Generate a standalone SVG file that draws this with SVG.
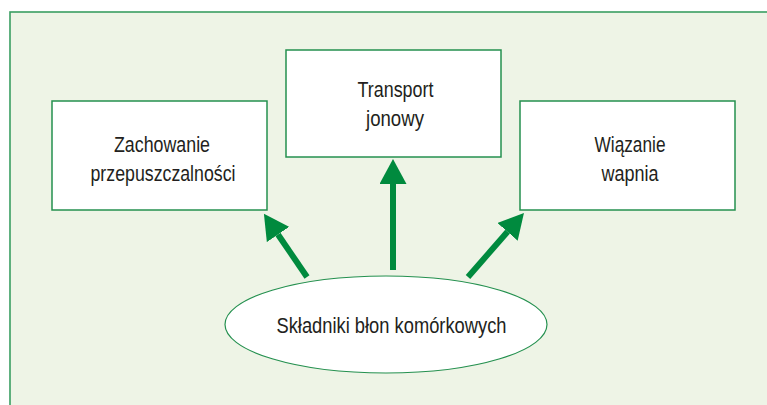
<svg xmlns="http://www.w3.org/2000/svg" width="767" height="405" viewBox="0 0 767 405">
  <defs>
    <style>
      .frame { fill: #EEF4E6; stroke: #3A9E62; stroke-width: 1.6; }
      .box { fill: #FFFFFF; stroke: #24904F; stroke-width: 1.5; }
      .lbl { font-family: "Liberation Sans", Arial, sans-serif; font-size: 21.5px; fill: #231F20; text-anchor: middle; }
      .arrow { stroke: #008A3E; stroke-width: 6; fill: none; marker-end: url(#head); }
    </style>
    <marker id="head" viewBox="0 0 25 27" refX="0" refY="13.5" markerWidth="25" markerHeight="27" markerUnits="userSpaceOnUse" orient="auto">
      <path d="M0,0 L25,13.5 L0,27 Z" fill="#008A3E"/>
    </marker>
  </defs>

  <rect x="0" y="0" width="767" height="405" fill="#FFFFFF"/>
  <rect class="frame" x="10" y="12" width="770" height="410"/>

  <g id="connectors">
    <line class="arrow" x1="393" y1="270" x2="393" y2="184"/>
    <line class="arrow" x1="307" y1="277" x2="278" y2="234.5"/>
    <line class="arrow" x1="468" y1="277" x2="507.5" y2="231.8"/>
  </g>

  <g id="node-zachowanie">
    <rect class="box" x="52" y="101" width="215" height="109"/>
    <text class="lbl" x="162" y="152" textLength="96" lengthAdjust="spacingAndGlyphs">Zachowanie</text>
    <text class="lbl" x="163" y="181" textLength="145" lengthAdjust="spacingAndGlyphs">przepuszczalności</text>
  </g>

  <g id="node-transport">
    <rect class="box" x="286" y="50" width="215" height="107"/>
    <text class="lbl" x="395.5" y="97" textLength="76" lengthAdjust="spacingAndGlyphs">Transport</text>
    <text class="lbl" x="395" y="126" textLength="58" lengthAdjust="spacingAndGlyphs">jonowy</text>
  </g>

  <g id="node-wiazanie">
    <rect class="box" x="520" y="101" width="215" height="109"/>
    <text class="lbl" x="630" y="152" textLength="71" lengthAdjust="spacingAndGlyphs">Wiązanie</text>
    <text class="lbl" x="630" y="181" textLength="57" lengthAdjust="spacingAndGlyphs">wapnia</text>
  </g>

  <g id="node-skladniki">
    <ellipse cx="386" cy="324.5" rx="161" ry="48.5" fill="#FFFFFF" stroke="#24904F" stroke-width="1.2"/>
    <text class="lbl" x="391.5" y="333" textLength="230" lengthAdjust="spacingAndGlyphs">Składniki błon komórkowych</text>
  </g>
</svg>
